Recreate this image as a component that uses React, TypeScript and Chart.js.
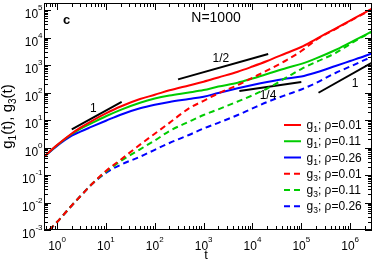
import React, { useEffect, useRef } from "react";
import { Chart, registerables } from "chart.js";

Chart.register(...registerables);

// time grid (t)
const T = [0.5, 1, 2, 3, 5, 10, 20, 50, 100, 200, 500, 1e3, 2e3, 5e3, 1e4, 2e4, 5e4, 1e5, 2e5, 5e5, 1e6, 2e6, 3.2e6];

// g1(t) for rho = 0.01, 0.11, 0.26
const G1_RHO001 = [0.405, 1.23, 3.24, 5.27, 9.0, 17.3, 31, 58, 82.5, 120, 181, 247, 354, 571, 882, 1398, 2731, 4512, 8820, 21240, 41500, 81100, 128600];
const G1_RHO011 = [0.405, 1.2, 3.1, 4.8, 7.5, 13.7, 23.5, 42.6, 60.5, 77.8, 100, 123, 165, 227, 323, 471, 780, 1100, 1738, 3511, 6578, 12330, 19050];
const G1_RHO026 = [0.405, 1.15, 2.7, 3.8, 5.6, 9.4, 15.6, 26.6, 35.7, 45.1, 58, 70.4, 95.9, 142, 187, 241, 323, 382, 534, 920, 1398, 2125, 2896];

// g3(t) for rho = 0.01, 0.11, 0.26
const G3_RHO001 = [5.6e-4, 1.95e-3, 7.8e-3, 0.0169, 0.044, 0.14, 0.36, 1.27, 3.17, 7.9, 26.3, 50, 92.7, 187, 345, 636, 1507, 3229, 8114, 20400, 39800, 77600, 123000];
const G3_RHO011 = [5.6e-4, 1.95e-3, 7.8e-3, 0.0169, 0.044, 0.13, 0.32, 0.86, 1.8, 3.98, 8.67, 15.2, 24.5, 47.1, 79.1, 140, 354, 715, 1285, 2731, 5801, 11830, 18740];
const G3_RHO026 = [5.6e-4, 1.95e-3, 7.8e-3, 0.0169, 0.044, 0.12, 0.235, 0.463, 0.825, 1.46, 2.85, 4.91, 7.91, 15.2, 26.4, 45.1, 83.2, 129, 223, 512, 882, 1532, 2235];

const RHO = ["0.01", "0.11", "0.26"];
const COLORS = ["#ff0000", "#00cc00", "#0000ff"];

// reference slope lines (t endpoints, g endpoints, label, label anchor t/g)
const SLOPE_T = [[2, 21], [300, 2.1e4], [5400, 1e5], [2.25e5, 3.2e6]];
const SLOPE_G = [[4.6, 46], [300, 2500], [113, 240], [98, 1400]];
const SLOPE_LABELS = ["1", "1/2", "1/4", "1"];
const SLOPE_LABEL_T = [5.5, 2250, 20800, 1.26e6];
const SLOPE_LABEL_G = [20, 1320, 58, 163];

const X_DECADES = [0, 1, 2, 3, 4, 5, 6];
const Y_DECADES = [-3, -2, -1, 0, 1, 2, 3, 4, 5];

const FONT = '"Liberation Sans", Arial, Helvetica, sans-serif';

type Seg = { t: string; size: number; dy: number; bold?: boolean };

function setFont(ctx: CanvasRenderingContext2D, s: Seg) {
  ctx.font = `${s.bold ? "bold " : ""}${s.size}px ${FONT}`;
}

function drawSegs(ctx: CanvasRenderingContext2D, segs: Seg[], x: number, y: number, align: "left" | "center" | "right") {
  let w = 0;
  for (const s of segs) {
    setFont(ctx, s);
    w += ctx.measureText(s.t).width;
  }
  let cx = align === "left" ? x : align === "center" ? x - w / 2 : x - w;
  ctx.textAlign = "left";
  ctx.textBaseline = "alphabetic";
  for (const s of segs) {
    setFont(ctx, s);
    ctx.fillText(s.t, cx, y + s.dy);
    cx += ctx.measureText(s.t).width;
  }
}

const decor = {
  id: "decor",
  afterDatasetsDraw(chart: any) {
    const { ctx, chartArea: a, scales } = chart;
    const xs = scales.x;
    const ys = scales.y;
    ctx.save();
    ctx.fillStyle = "#000";
    ctx.strokeStyle = "#000";
    ctx.lineWidth = 1;
    ctx.setLineDash([]);
    // frame
    ctx.strokeRect(a.left + 0.5, a.top + 0.5, a.right - a.left - 1, a.bottom - a.top - 1);

    const line = (x1: number, y1: number, x2: number, y2: number) => {
      ctx.beginPath();
      ctx.moveTo(x1, y1);
      ctx.lineTo(x2, y2);
      ctx.stroke();
    };
    // ticks
    for (let k = -1; k <= 7; k++) {
      for (let m = 1; m <= 9; m++) {
        const v = m * Math.pow(10, k);
        if (v < xs.min || v > xs.max) continue;
        const px = Math.round(xs.getPixelForValue(v)) + 0.5;
        const len = m === 1 ? 7 : 4;
        line(px, a.bottom, px, a.bottom - len);
        line(px, a.top, px, a.top + len);
      }
    }
    for (let k = -4; k <= 6; k++) {
      for (let m = 1; m <= 9; m++) {
        const v = m * Math.pow(10, k);
        if (v < ys.min || v > ys.max) continue;
        const py = Math.round(ys.getPixelForValue(v)) + 0.5;
        const len = m === 1 ? 7 : 4;
        line(a.left, py, a.left + len, py);
        line(a.right, py, a.right - len, py);
      }
    }
    // tick labels
    for (const k of X_DECADES) {
      const px = xs.getPixelForValue(Math.pow(10, k));
      drawSegs(ctx, [{ t: "10", size: 12, dy: 0 }, { t: String(k), size: 8, dy: -8 }], px, a.bottom + 20, "center");
    }
    for (const k of Y_DECADES) {
      const py = ys.getPixelForValue(Math.pow(10, k));
      drawSegs(ctx, [{ t: "10", size: 12, dy: 0 }, { t: String(k), size: 8, dy: -8 }], a.left - 1.5, py + 8, "right");
    }
    // axis titles
    drawSegs(ctx, [{ t: "t", size: 13, dy: 0 }], (a.left + a.right) / 2 - 2, 259, "center");
    ctx.save();
    ctx.translate(12, (a.top + a.bottom) / 2);
    ctx.rotate(-Math.PI / 2);
    drawSegs(
      ctx,
      [
        { t: "g", size: 15, dy: 0 },
        { t: "1", size: 10, dy: 4 },
        { t: "(t), g", size: 15, dy: 0 },
        { t: "3", size: 10, dy: 4 },
        { t: "(t)", size: 15, dy: 0 },
      ],
      0,
      0,
      "center"
    );
    ctx.restore();

    // annotations
    drawSegs(ctx, [{ t: "c", size: 13, dy: 0, bold: true }], a.left + 22.7, a.top + 20.5, "center");
    drawSegs(ctx, [{ t: "N=1000", size: 14, dy: 0 }], 216, a.top + 19, "center");
    for (let i = 0; i < SLOPE_LABELS.length; i++) {
      drawSegs(
        ctx,
        [{ t: SLOPE_LABELS[i], size: 12, dy: 0 }],
        xs.getPixelForValue(SLOPE_LABEL_T[i]),
        ys.getPixelForValue(SLOPE_LABEL_G[i]),
        "center"
      );
    }

    // legend
    const lx0 = a.right - 88;
    const lx1 = a.right - 71;
    const tx = a.right - 65.5;
    const y0 = 125;
    const step = 16.25;
    let row = 0;
    for (const f of ["1", "3"]) {
      for (let i = 0; i < RHO.length; i++) {
        const y = y0 + row * step;
        ctx.strokeStyle = COLORS[i];
        ctx.lineWidth = 2;
        ctx.setLineDash(f === "3" ? [6, 4] : []);
        line(lx0, y, lx1, y);
        ctx.setLineDash([]);
        drawSegs(
          ctx,
          [
            { t: "g", size: 12, dy: 0 },
            { t: f, size: 8.5, dy: 3 },
            { t: "; ρ=" + RHO[i], size: 12, dy: 0 },
          ],
          tx,
          y + 4,
          "left"
        );
        row++;
      }
    }
    ctx.restore();
  },
};

function pts(ys: number[]) {
  return T.map((t, i) => ({ x: t, y: ys[i] }));
}

export default function App() {
  const ref = useRef<HTMLCanvasElement>(null);
  useEffect(() => {
    if (!ref.current) return;
    const g1 = [G1_RHO001, G1_RHO011, G1_RHO026];
    const g3 = [G3_RHO001, G3_RHO011, G3_RHO026];
    const datasets: any[] = [];
    g3.forEach((s, i) =>
      datasets.push({
        data: pts(s),
        borderColor: COLORS[i],
        borderWidth: 2,
        borderDash: [6, 4],
        pointRadius: 0,
        cubicInterpolationMode: "monotone",
        clip: 0,
      })
    );
    g1.forEach((s, i) =>
      datasets.push({
        data: pts(s),
        borderColor: COLORS[i],
        borderWidth: 2,
        pointRadius: 0,
        cubicInterpolationMode: "monotone",
        clip: 0,
      })
    );
    SLOPE_T.forEach((tt, i) =>
      datasets.push({
        data: tt.map((t, j) => ({ x: t, y: SLOPE_G[i][j] })),
        borderColor: "#000",
        borderWidth: 2,
        pointRadius: 0,
        clip: 0,
      })
    );
    const chart = new Chart(ref.current, {
      type: "line",
      data: { datasets },
      options: {
        animation: false,
        responsive: false,
        maintainAspectRatio: false,
        layout: { padding: { top: 3, right: 2, left: 0, bottom: 0 } },
        plugins: { legend: { display: false }, tooltip: { enabled: false } },
        scales: {
          x: {
            type: "logarithmic",
            min: 0.54,
            max: 2.8e6,
            ticks: { display: false },
            grid: { display: false },
            border: { display: false },
            afterFit: (s: any) => {
              s.height = 32;
            },
          },
          y: {
            type: "logarithmic",
            min: 1e-3,
            max: 1.8e5,
            ticks: { display: false },
            grid: { display: false },
            border: { display: false },
            afterFit: (s: any) => {
              s.width = 44;
            },
          },
        },
      } as any,
      plugins: [decor],
    });
    return () => chart.destroy();
  }, []);
  return (
    <div style={{ position: "absolute", left: 0, top: 0, width: 374, height: 262, background: "#fff" }}>
      <canvas ref={ref} width={374} height={262} style={{ display: "block" }} />
    </div>
  );
}
